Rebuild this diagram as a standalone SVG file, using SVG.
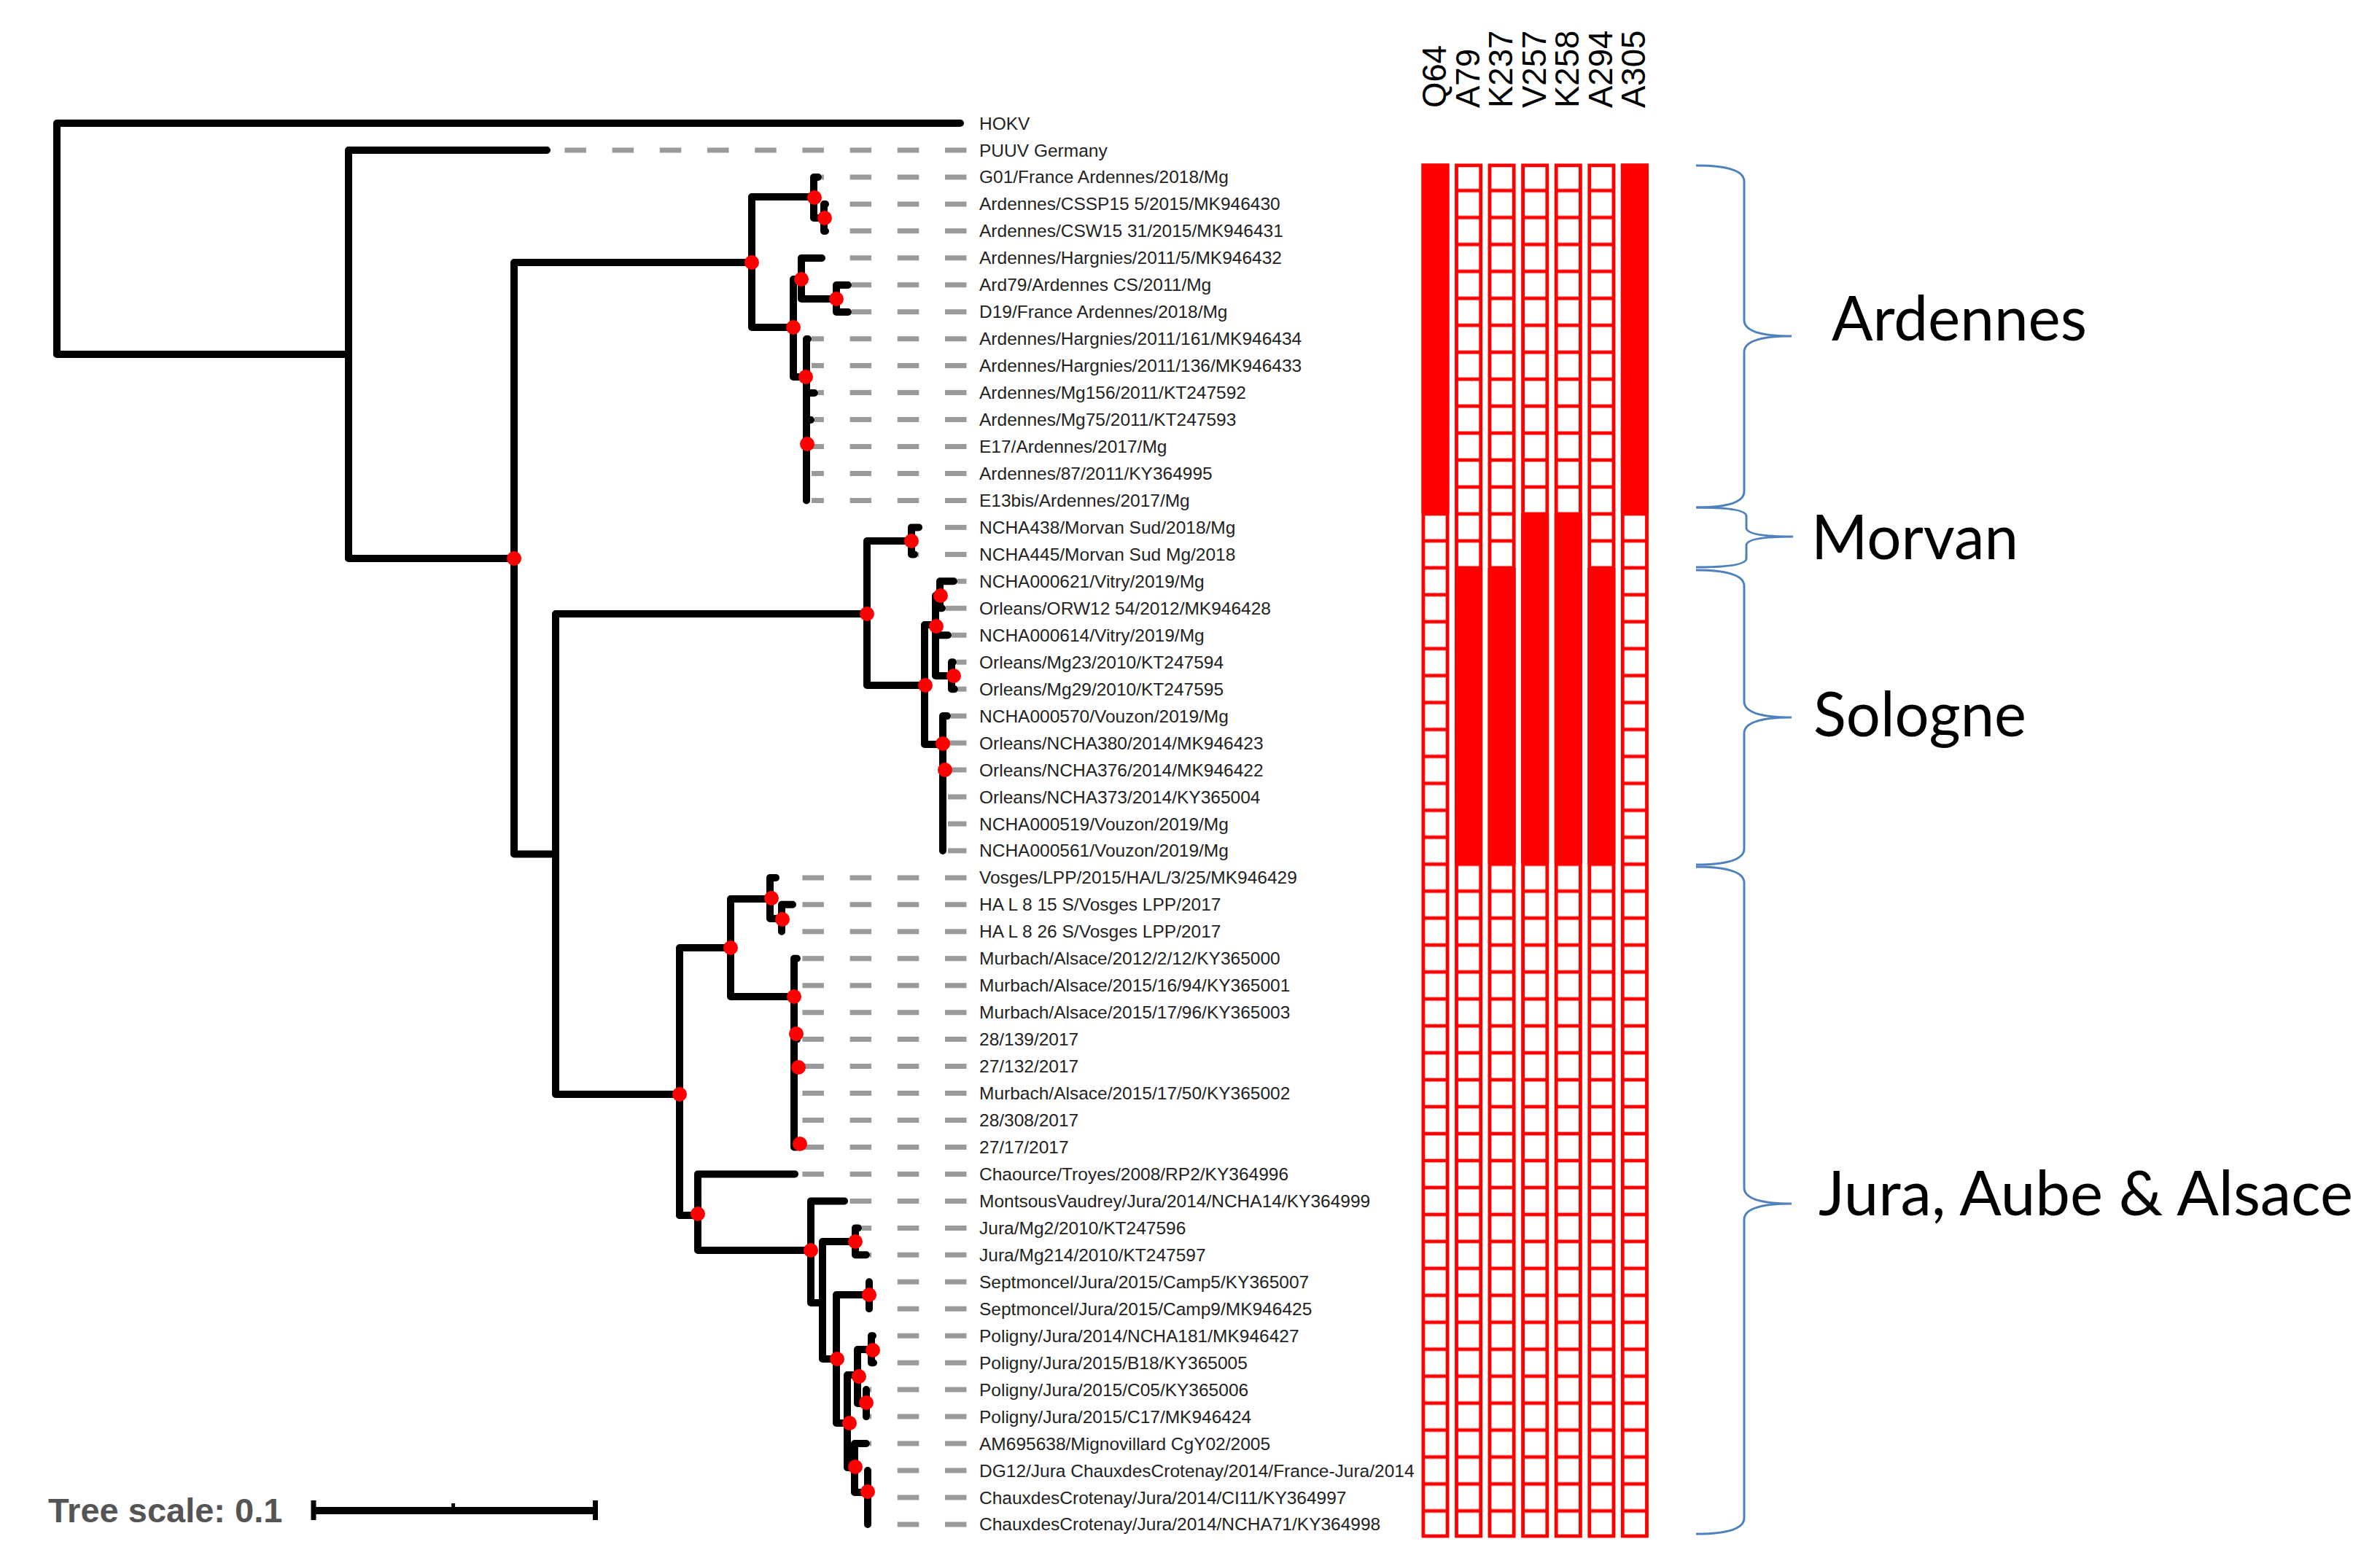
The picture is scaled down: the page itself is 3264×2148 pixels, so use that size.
<svg xmlns="http://www.w3.org/2000/svg" width="3264" height="2148" viewBox="0 0 3264 2148">
<style>
.br{fill:none;stroke:#000;stroke-width:10;stroke-linecap:round;stroke-linejoin:round}
.lead{stroke:#9a9a9a;stroke-width:7;stroke-dasharray:29.5 35.7}
.lbl{font-family:"Liberation Sans",Arial,sans-serif;font-size:24.5px;fill:#222}
.dot{fill:#ff0000}
.col{stroke:#ff0000;stroke-width:4.8;fill:url(#cellgrid)}
.fill{fill:#ff0000}
.hdr{font-family:"Liberation Sans",Arial,sans-serif;font-size:45.5px;fill:#000}
.brace{fill:none;stroke:#4f81bd;stroke-width:3}
.grp{font-family:Lato,"Open Sans",sans-serif;font-size:85px;fill:#000}
</style>
<defs>
<pattern id="cellgrid" patternUnits="userSpaceOnUse" x="0" y="224.44" width="60" height="36.96">
<rect x="0" y="0" width="60" height="2.4" fill="#ff0000"/>
<rect x="0" y="34.56" width="60" height="2.4" fill="#ff0000"/>
</pattern>
</defs>
<rect x="0" y="0" width="3264" height="2148" fill="#fff"/>

<g id="connectors">
<g id="leaders">
<line class="lead" x1="1325.5" y1="206" x2="755" y2="206"/>
<line class="lead" x1="1325.5" y1="242.9" x2="1127" y2="242.9"/>
<line class="lead" x1="1325.5" y1="279.9" x2="1137" y2="279.9"/>
<line class="lead" x1="1325.5" y1="316.8" x2="1137" y2="316.8"/>
<line class="lead" x1="1325.5" y1="353.8" x2="1132" y2="353.8"/>
<line class="lead" x1="1325.5" y1="390.8" x2="1168" y2="390.8"/>
<line class="lead" x1="1325.5" y1="427.7" x2="1168" y2="427.7"/>
<line class="lead" x1="1325.5" y1="464.7" x2="1113" y2="464.7"/>
<line class="lead" x1="1325.5" y1="501.6" x2="1113" y2="501.6"/>
<line class="lead" x1="1325.5" y1="538.6" x2="1122" y2="538.6"/>
<line class="lead" x1="1325.5" y1="575.6" x2="1117" y2="575.6"/>
<line class="lead" x1="1325.5" y1="612.5" x2="1113" y2="612.5"/>
<line class="lead" x1="1325.5" y1="649.5" x2="1113" y2="649.5"/>
<line class="lead" x1="1325.5" y1="686.4" x2="1113" y2="686.4"/>
<line class="lead" x1="1325.5" y1="723.4" x2="1265" y2="723.4"/>
<line class="lead" x1="1325.5" y1="760.4" x2="1259" y2="760.4"/>
<line class="lead" x1="1325.5" y1="797.3" x2="1313" y2="797.3"/>
<line class="lead" x1="1325.5" y1="834.3" x2="1297" y2="834.3"/>
<line class="lead" x1="1325.5" y1="871.2" x2="1305" y2="871.2"/>
<line class="lead" x1="1325.5" y1="908.2" x2="1312" y2="908.2"/>
<line class="lead" x1="1325.5" y1="945.2" x2="1314" y2="945.2"/>
<line class="lead" x1="1325.5" y1="982.1" x2="1304" y2="982.1"/>
<line class="lead" x1="1325.5" y1="1019.1" x2="1300" y2="1019.1"/>
<line class="lead" x1="1325.5" y1="1056" x2="1300" y2="1056"/>
<line class="lead" x1="1325.5" y1="1093" x2="1300" y2="1093"/>
<line class="lead" x1="1325.5" y1="1130" x2="1300" y2="1130"/>
<line class="lead" x1="1325.5" y1="1166.9" x2="1300" y2="1166.9"/>
<line class="lead" x1="1325.5" y1="1203.9" x2="1068" y2="1203.9"/>
<line class="lead" x1="1325.5" y1="1240.8" x2="1092" y2="1240.8"/>
<line class="lead" x1="1325.5" y1="1277.8" x2="1077" y2="1277.8"/>
<line class="lead" x1="1325.5" y1="1314.8" x2="1098" y2="1314.8"/>
<line class="lead" x1="1325.5" y1="1351.7" x2="1098" y2="1351.7"/>
<line class="lead" x1="1325.5" y1="1388.7" x2="1098" y2="1388.7"/>
<line class="lead" x1="1325.5" y1="1425.6" x2="1098" y2="1425.6"/>
<line class="lead" x1="1325.5" y1="1462.6" x2="1098" y2="1462.6"/>
<line class="lead" x1="1325.5" y1="1499.6" x2="1098" y2="1499.6"/>
<line class="lead" x1="1325.5" y1="1536.5" x2="1098" y2="1536.5"/>
<line class="lead" x1="1325.5" y1="1573.5" x2="1098" y2="1573.5"/>
<line class="lead" x1="1325.5" y1="1610.4" x2="1095" y2="1610.4"/>
<line class="lead" x1="1325.5" y1="1647.4" x2="1163" y2="1647.4"/>
<line class="lead" x1="1325.5" y1="1684.4" x2="1182" y2="1684.4"/>
<line class="lead" x1="1325.5" y1="1721.3" x2="1193" y2="1721.3"/>
<line class="lead" x1="1325.5" y1="1758.3" x2="1197" y2="1758.3"/>
<line class="lead" x1="1325.5" y1="1795.2" x2="1197" y2="1795.2"/>
<line class="lead" x1="1325.5" y1="1832.2" x2="1202" y2="1832.2"/>
<line class="lead" x1="1325.5" y1="1869.2" x2="1203" y2="1869.2"/>
<line class="lead" x1="1325.5" y1="1906.1" x2="1193" y2="1906.1"/>
<line class="lead" x1="1325.5" y1="1943.1" x2="1193" y2="1943.1"/>
<line class="lead" x1="1325.5" y1="1980" x2="1193" y2="1980"/>
<line class="lead" x1="1325.5" y1="2017" x2="1195" y2="2017"/>
<line class="lead" x1="1325.5" y1="2054" x2="1195" y2="2054"/>
<line class="lead" x1="1325.5" y1="2090.9" x2="1195" y2="2090.9"/>
</g>
<g id="branches">
<path class="br" d="M78,169 V486 M78,169 H1317 M78,486 H478 M478,206 V766 M478,206 H750 M478,766 H705 M705,360 V1171.5 M705,360 H1031 M705,1171.5 H762 M762,842 V1501 M762,842 H1189 M762,1501 H932"/>
<path class="br" d="M1031,270 V449 M1031,270 H1116 M1116,243 V299 M1116,243 H1122 M1116,299 H1130 M1130,280 V317 M1130,280 H1132 M1130,317 H1132 M1031,449 H1088 M1088,383 V517 M1088,383 H1099 M1099,354 V410 M1099,354 H1127 M1099,410 H1147 M1147,391 V428 M1147,391 H1163 M1147,428 H1163 M1088,517 H1106 M1106,465 V686.4 M1106,465 H1108 M1106,539 H1117 M1106,576 H1112"/>
<path class="br" d="M1189,742 V940 M1189,742 H1250 M1250,723.4 V760.4 M1250,723.4 H1260 M1250,760.4 H1254 M1189,940 H1268 M1268,857 V1021 M1268,857 H1283 M1283,817 V927 M1283,817 H1289 M1289,797.3 V834.3 M1289,797.3 H1308 M1289,834.3 H1292 M1283,871.2 H1300 M1283,927 H1305 M1305,908.2 V945.2 M1305,908.2 H1307 M1305,945.2 H1309 M1268,1021 H1293 M1293,982.1 V1166.9 M1293,982.1 H1299"/>
<path class="br" d="M932,1300 V1667 M932,1300 H1002 M1002,1233 V1367 M1002,1233 H1056 M1056,1203.9 V1260 M1056,1203.9 H1064 M1056,1260 H1072 M1072,1240.8 V1277.8 M1072,1240.8 H1087 M1002,1367 H1089 M1089,1314.8 V1573.5 M1089,1314.8 H1093 M1089,1425.6 H1093 M1089,1462.6 H1093 M1089,1573.5 H1093"/>
<path class="br" d="M932,1667 H957 M957,1610.4 V1715 M957,1610.4 H1090 M957,1715 H1112 M1112,1647.4 V1787 M1112,1647.4 H1158 M1112,1787 H1128 M1128,1703 V1864 M1128,1703 H1173 M1173,1684.4 V1721.3 M1173,1684.4 H1177 M1173,1721.3 H1188 M1128,1864 H1147 M1147,1776 V1952 M1147,1776 H1192 M1192,1758.3 V1795.2 M1147,1952 H1162 M1162,1886 V2013 M1162,1886 H1176 M1176,1851 V1925 M1176,1851 H1195 M1195,1832.2 V1869.2 M1195,1832.2 H1197 M1195,1869.2 H1198 M1176,1925 H1188 M1188,1906.1 V1943.1 M1162,2013 H1172 M1172,1980 V2047 M1172,1980 H1188 M1172,2047 H1190 M1190,2017 V2090.9"/>
</g>
</g>

<g id="support-dots">
<circle class="dot" cx="705" cy="766" r="10"/>
<circle class="dot" cx="1031" cy="360" r="10"/>
<circle class="dot" cx="1117" cy="271" r="10"/>
<circle class="dot" cx="1131" cy="299" r="10"/>
<circle class="dot" cx="1099" cy="383" r="10"/>
<circle class="dot" cx="1147" cy="410" r="10"/>
<circle class="dot" cx="1088" cy="449" r="10"/>
<circle class="dot" cx="1105" cy="517" r="10"/>
<circle class="dot" cx="1107" cy="609" r="10"/>
<circle class="dot" cx="1189" cy="842" r="10"/>
<circle class="dot" cx="1250" cy="742" r="10"/>
<circle class="dot" cx="1269" cy="940" r="10"/>
<circle class="dot" cx="1290" cy="817" r="10"/>
<circle class="dot" cx="1284" cy="859" r="10"/>
<circle class="dot" cx="1308" cy="927" r="10"/>
<circle class="dot" cx="1293" cy="1020" r="10"/>
<circle class="dot" cx="1296" cy="1056" r="10"/>
<circle class="dot" cx="932" cy="1501" r="10"/>
<circle class="dot" cx="1002" cy="1300" r="10"/>
<circle class="dot" cx="1058" cy="1232" r="10"/>
<circle class="dot" cx="1073" cy="1261" r="10"/>
<circle class="dot" cx="1089" cy="1367" r="10"/>
<circle class="dot" cx="1092" cy="1418" r="10"/>
<circle class="dot" cx="1095" cy="1464" r="10"/>
<circle class="dot" cx="1097" cy="1569" r="10"/>
<circle class="dot" cx="957" cy="1665" r="10"/>
<circle class="dot" cx="1112" cy="1715" r="10"/>
<circle class="dot" cx="1173" cy="1703" r="10"/>
<circle class="dot" cx="1148" cy="1864" r="10"/>
<circle class="dot" cx="1192" cy="1776" r="10"/>
<circle class="dot" cx="1165" cy="1952" r="10"/>
<circle class="dot" cx="1178" cy="1888" r="10"/>
<circle class="dot" cx="1197" cy="1852" r="10"/>
<circle class="dot" cx="1188" cy="1924" r="10"/>
<circle class="dot" cx="1173" cy="2012" r="10"/>
<circle class="dot" cx="1190" cy="2046" r="10"/>
</g>

<g id="leaves">
<g id="leaf-00"><text class="lbl" x="1343" y="177.5">HOKV</text></g>
<g id="leaf-01"><text class="lbl" x="1343" y="214.5">PUUV Germany</text></g>
<g id="leaf-02"><text class="lbl" x="1343" y="251.4">G01/France Ardennes/2018/Mg</text></g>
<g id="leaf-03"><text class="lbl" x="1343" y="288.4">Ardennes/CSSP15 5/2015/MK946430</text></g>
<g id="leaf-04"><text class="lbl" x="1343" y="325.3">Ardennes/CSW15 31/2015/MK946431</text></g>
<g id="leaf-05"><text class="lbl" x="1343" y="362.3">Ardennes/Hargnies/2011/5/MK946432</text></g>
<g id="leaf-06"><text class="lbl" x="1343" y="399.3">Ard79/Ardennes CS/2011/Mg</text></g>
<g id="leaf-07"><text class="lbl" x="1343" y="436.2">D19/France Ardennes/2018/Mg</text></g>
<g id="leaf-08"><text class="lbl" x="1343" y="473.2">Ardennes/Hargnies/2011/161/MK946434</text></g>
<g id="leaf-09"><text class="lbl" x="1343" y="510.1">Ardennes/Hargnies/2011/136/MK946433</text></g>
<g id="leaf-10"><text class="lbl" x="1343" y="547.1">Ardennes/Mg156/2011/KT247592</text></g>
<g id="leaf-11"><text class="lbl" x="1343" y="584.1">Ardennes/Mg75/2011/KT247593</text></g>
<g id="leaf-12"><text class="lbl" x="1343" y="621">E17/Ardennes/2017/Mg</text></g>
<g id="leaf-13"><text class="lbl" x="1343" y="658">Ardennes/87/2011/KY364995</text></g>
<g id="leaf-14"><text class="lbl" x="1343" y="694.9">E13bis/Ardennes/2017/Mg</text></g>
<g id="leaf-15"><text class="lbl" x="1343" y="731.9">NCHA438/Morvan Sud/2018/Mg</text></g>
<g id="leaf-16"><text class="lbl" x="1343" y="768.9">NCHA445/Morvan Sud Mg/2018</text></g>
<g id="leaf-17"><text class="lbl" x="1343" y="805.8">NCHA000621/Vitry/2019/Mg</text></g>
<g id="leaf-18"><text class="lbl" x="1343" y="842.8">Orleans/ORW12 54/2012/MK946428</text></g>
<g id="leaf-19"><text class="lbl" x="1343" y="879.7">NCHA000614/Vitry/2019/Mg</text></g>
<g id="leaf-20"><text class="lbl" x="1343" y="916.7">Orleans/Mg23/2010/KT247594</text></g>
<g id="leaf-21"><text class="lbl" x="1343" y="953.7">Orleans/Mg29/2010/KT247595</text></g>
<g id="leaf-22"><text class="lbl" x="1343" y="990.6">NCHA000570/Vouzon/2019/Mg</text></g>
<g id="leaf-23"><text class="lbl" x="1343" y="1027.6">Orleans/NCHA380/2014/MK946423</text></g>
<g id="leaf-24"><text class="lbl" x="1343" y="1064.5">Orleans/NCHA376/2014/MK946422</text></g>
<g id="leaf-25"><text class="lbl" x="1343" y="1101.5">Orleans/NCHA373/2014/KY365004</text></g>
<g id="leaf-26"><text class="lbl" x="1343" y="1138.5">NCHA000519/Vouzon/2019/Mg</text></g>
<g id="leaf-27"><text class="lbl" x="1343" y="1175.4">NCHA000561/Vouzon/2019/Mg</text></g>
<g id="leaf-28"><text class="lbl" x="1343" y="1212.4">Vosges/LPP/2015/HA/L/3/25/MK946429</text></g>
<g id="leaf-29"><text class="lbl" x="1343" y="1249.3">HA L 8 15 S/Vosges LPP/2017</text></g>
<g id="leaf-30"><text class="lbl" x="1343" y="1286.3">HA L 8 26 S/Vosges LPP/2017</text></g>
<g id="leaf-31"><text class="lbl" x="1343" y="1323.3">Murbach/Alsace/2012/2/12/KY365000</text></g>
<g id="leaf-32"><text class="lbl" x="1343" y="1360.2">Murbach/Alsace/2015/16/94/KY365001</text></g>
<g id="leaf-33"><text class="lbl" x="1343" y="1397.2">Murbach/Alsace/2015/17/96/KY365003</text></g>
<g id="leaf-34"><text class="lbl" x="1343" y="1434.1">28/139/2017</text></g>
<g id="leaf-35"><text class="lbl" x="1343" y="1471.1">27/132/2017</text></g>
<g id="leaf-36"><text class="lbl" x="1343" y="1508.1">Murbach/Alsace/2015/17/50/KY365002</text></g>
<g id="leaf-37"><text class="lbl" x="1343" y="1545">28/308/2017</text></g>
<g id="leaf-38"><text class="lbl" x="1343" y="1582">27/17/2017</text></g>
<g id="leaf-39"><text class="lbl" x="1343" y="1618.9">Chaource/Troyes/2008/RP2/KY364996</text></g>
<g id="leaf-40"><text class="lbl" x="1343" y="1655.9">MontsousVaudrey/Jura/2014/NCHA14/KY364999</text></g>
<g id="leaf-41"><text class="lbl" x="1343" y="1692.9">Jura/Mg2/2010/KT247596</text></g>
<g id="leaf-42"><text class="lbl" x="1343" y="1729.8">Jura/Mg214/2010/KT247597</text></g>
<g id="leaf-43"><text class="lbl" x="1343" y="1766.8">Septmoncel/Jura/2015/Camp5/KY365007</text></g>
<g id="leaf-44"><text class="lbl" x="1343" y="1803.7">Septmoncel/Jura/2015/Camp9/MK946425</text></g>
<g id="leaf-45"><text class="lbl" x="1343" y="1840.7">Poligny/Jura/2014/NCHA181/MK946427</text></g>
<g id="leaf-46"><text class="lbl" x="1343" y="1877.7">Poligny/Jura/2015/B18/KY365005</text></g>
<g id="leaf-47"><text class="lbl" x="1343" y="1914.6">Poligny/Jura/2015/C05/KY365006</text></g>
<g id="leaf-48"><text class="lbl" x="1343" y="1951.6">Poligny/Jura/2015/C17/MK946424</text></g>
<g id="leaf-49"><text class="lbl" x="1343" y="1988.5">AM695638/Mignovillard CgY02/2005</text></g>
<g id="leaf-50"><text class="lbl" x="1343" y="2025.5">DG12/Jura ChauxdesCrotenay/2014/France-Jura/2014</text></g>
<g id="leaf-51"><text class="lbl" x="1343" y="2062.5">ChauxdesCrotenay/Jura/2014/CI11/KY364997</text></g>
<g id="leaf-52"><text class="lbl" x="1343" y="2099.4">ChauxdesCrotenay/Jura/2014/NCHA71/KY364998</text></g>
</g>

<g id="matrix">
<rect class="col" x="1951.9" y="226.84" width="33.2" height="1880.12"/>
<rect class="col" x="1997.5" y="226.84" width="33.2" height="1880.12"/>
<rect class="col" x="2043" y="226.84" width="33.2" height="1880.12"/>
<rect class="col" x="2088.6" y="226.84" width="33.2" height="1880.12"/>
<rect class="col" x="2134.2" y="226.84" width="33.2" height="1880.12"/>
<rect class="col" x="2179.8" y="226.84" width="33.2" height="1880.12"/>
<rect class="col" x="2225.3" y="226.84" width="33.2" height="1880.12"/>
<rect class="fill" x="1949.5" y="224.44" width="38" height="480.48"/>
<rect class="fill" x="2222.9" y="224.44" width="38" height="480.48"/>
<rect class="fill" x="2086.2" y="704.92" width="38" height="480.48"/>
<rect class="fill" x="2131.8" y="704.92" width="38" height="480.48"/>
<rect class="fill" x="1995.1" y="778.84" width="38" height="406.56"/>
<rect class="fill" x="2040.6" y="778.84" width="38" height="406.56"/>
<rect class="fill" x="2177.4" y="778.84" width="38" height="406.56"/>
</g>

<g id="column-headers">
<text class="hdr" transform="translate(1983,148) rotate(-90)">Q64</text>
<text class="hdr" transform="translate(2028.6,148) rotate(-90)">A79</text>
<text class="hdr" transform="translate(2074.1,148) rotate(-90)">K237</text>
<text class="hdr" transform="translate(2119.7,148) rotate(-90)">V257</text>
<text class="hdr" transform="translate(2165.3,148) rotate(-90)">K258</text>
<text class="hdr" transform="translate(2210.9,148) rotate(-90)">A294</text>
<text class="hdr" transform="translate(2256.4,148) rotate(-90)">A305</text>
</g>

<g id="group-ardennes">
<path class="brace" d="M2326,227 Q2392,227 2392,249 L2392,439 Q2392,461 2457,461 Q2392,461 2392,483 L2392,674 Q2392,696 2326,696"/>
<text class="grp" x="2512" y="467" textLength="350" lengthAdjust="spacingAndGlyphs">Ardennes</text>
</g>
<g id="group-morvan">
<path class="brace" d="M2326,696 Q2395,696 2395,708 L2395,724 Q2395,736 2459,736 Q2395,736 2395,748 L2395,766 Q2395,778 2326,778"/>
<text class="grp" x="2484" y="767" textLength="284" lengthAdjust="spacingAndGlyphs">Morvan</text>
</g>
<g id="group-sologne">
<path class="brace" d="M2326,782 Q2392,782 2392,804 L2392,962 Q2392,984 2457,984 Q2392,984 2392,1006 L2392,1164 Q2392,1186 2326,1186"/>
<text class="grp" x="2487" y="1010" textLength="292" lengthAdjust="spacingAndGlyphs">Sologne</text>
</g>
<g id="group-jura">
<path class="brace" d="M2326,1189 Q2392,1189 2392,1211 L2392,1629 Q2392,1651 2457,1651 Q2392,1651 2392,1673 L2392,2082 Q2392,2104 2326,2104"/>
<text class="grp" x="2494" y="1667" textLength="733" lengthAdjust="spacingAndGlyphs">Jura, Aube &amp; Alsace</text>
</g>

<g id="tree-scale">
<text x="66" y="2088" font-family="'Liberation Sans',Arial,sans-serif" font-size="47" font-weight="bold" fill="#555">Tree scale: 0.1</text>
<line x1="430" y1="2072" x2="817" y2="2072" stroke="#000" stroke-width="10"/>
<line x1="430" y1="2058" x2="430" y2="2085" stroke="#000" stroke-width="7"/>
<line x1="816.5" y1="2058" x2="816.5" y2="2085" stroke="#000" stroke-width="7"/>
<line x1="621.6" y1="2062" x2="621.6" y2="2072" stroke="#000" stroke-width="5"/>
</g>
</svg>
